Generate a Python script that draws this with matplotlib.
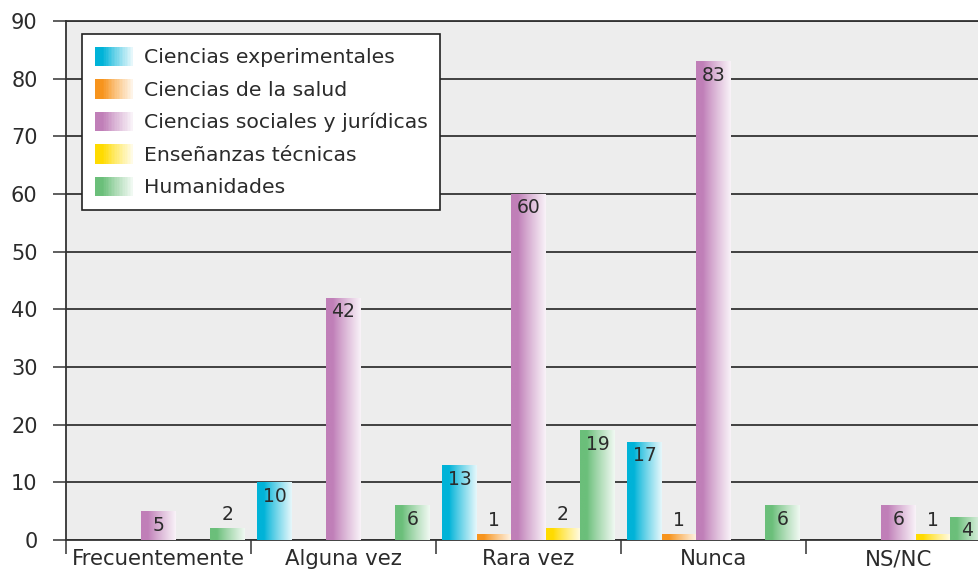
import numpy as np
import matplotlib
matplotlib.use("Agg")
import matplotlib.pyplot as plt
from matplotlib.legend_handler import HandlerBase
from matplotlib.patches import Rectangle
from matplotlib.colors import to_rgb

categories = ["Frecuentemente", "Alguna vez", "Rara vez", "Nunca", "NS/NC"]
series_names = ["Ciencias experimentales", "Ciencias de la salud",
                "Ciencias sociales y jurídicas", "Enseñanzas técnicas", "Humanidades"]
exp_vals = [0, 10, 13, 17, 0]
salud_vals = [0, 0, 1, 1, 0]
soc_vals = [5, 42, 60, 83, 6]
tec_vals = [0, 0, 2, 0, 1]
hum_vals = [2, 6, 19, 6, 4]
yticks = [0, 10, 20, 30, 40, 50, 60, 70, 80, 90]

series = [exp_vals, salud_vals, soc_vals, tec_vals, hum_vals]
colors = ["#00B3D8", "#F7941D", "#C07FB8", "#FFDB00", "#6BBF7A"]

plt.rcParams['font.family'] = ['DejaVu Sans']
TXT = "#2b2b2b"

fig = plt.figure(figsize=(9.79, 5.70), dpi=100)
ax = fig.add_axes([66/979, 1-540/570, 925/979, 519/570])
ax.set_facecolor("#EDEDED")


def grad_rgb(c, n=64):
    base = np.array(to_rgb(c))
    t = np.linspace(0, 1, n)
    m = np.clip((t - 0.2) / 0.8, 0, 1) ** 0.9 * 0.9
    return base[None, :] * (1 - m[:, None]) + m[:, None]


bw = 0.1865
x = np.arange(len(categories))
start = (1 - 5 * bw) / 2
for j, (vals, c) in enumerate(zip(series, colors)):
    pos = x + start + bw * (j + 0.5)
    bars = ax.bar(pos, vals, width=bw, color=c, linewidth=0, zorder=3)
    g = grad_rgb(c)[None, :, :]
    for p, v, xc in zip(bars.patches, vals, pos):
        if v <= 0:
            continue
        im = ax.imshow(g, extent=[p.get_x(), p.get_x() + p.get_width(), 0, v],
                       aspect='auto', zorder=3.5, interpolation='bilinear')
        im.set_clip_path(p)
        if v <= 2:
            ax.annotate(str(v), (xc, v), xytext=(0, 14), textcoords='offset pixels',
                        ha='center', va='center', fontsize=13.5, color=TXT, zorder=5)
        else:
            ax.annotate(str(v), (xc, v), xytext=(0, -14), textcoords='offset pixels',
                        ha='center', va='center', fontsize=13.5, color=TXT, zorder=5)

ax.set_xlim(0, len(categories))
ax.set_ylim(0, 90)
ax.set_yticks(yticks)
ax.set_yticklabels([str(t) for t in yticks])
ax.yaxis.grid(True, color="#333333", linewidth=1.3, zorder=1)
ax.set_axisbelow(True)
ax.tick_params(axis='y', length=9.5, width=1.1, color="#333333", pad=11,
               labelsize=15, labelcolor=TXT)
ax.set_xticks(x + 0.5)
ax.set_xticklabels(categories)
ax.set_xticks(np.arange(len(categories) + 1), minor=True)
ax.tick_params(axis='x', which='major', length=0, pad=6.5, labelsize=15.3, labelcolor=TXT)
ax.tick_params(axis='x', which='minor', length=10, width=1.1, color="#333333")
for s in ['left', 'bottom', 'top']:
    ax.spines[s].set_color("#333333")
    ax.spines[s].set_linewidth(1.3)
ax.spines['right'].set_visible(False)


class GradHandler(HandlerBase):
    def __init__(self, color):
        super().__init__()
        self.color = color

    def create_artists(self, legend, orig_handle, xdescent, ydescent, width, height,
                       fontsize, trans):
        cols = grad_rgb(self.color, 24)
        n = len(cols)
        arts = []
        for i, cc in enumerate(cols):
            r = Rectangle((-xdescent + width * i / n, -ydescent), width / n * 1.05, height,
                          facecolor=cc, edgecolor='none', transform=trans)
            arts.append(r)
        return arts


handles = [Rectangle((0, 0), 1, 1, color=c) for c in colors]
leg = ax.legend(handles, series_names,
                handler_map={h: GradHandler(c) for h, c in zip(handles, colors)},
                loc='upper left', bbox_to_anchor=(16/925, 1 - 13/519), borderaxespad=0,
                fontsize=14.7, handlelength=1.86, handleheight=1.08, handletextpad=0.54,
                labelspacing=0.58, borderpad=0.63, fancybox=False, framealpha=1,
                edgecolor="#222222", facecolor="white")
leg.get_frame().set_linewidth(1.2)
for t in leg.get_texts():
    t.set_color(TXT)
leg.set_zorder(10)

fig.savefig("out.png", dpi=100)
